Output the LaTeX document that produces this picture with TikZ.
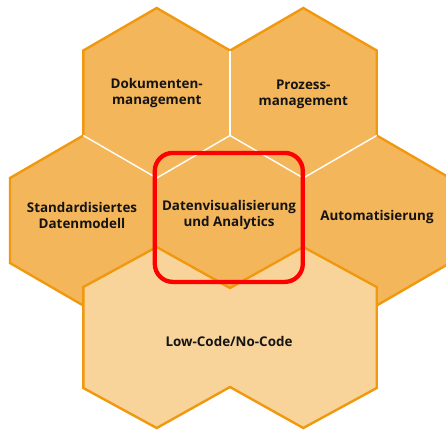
\documentclass[tikz,border=0pt]{standalone}
\usepackage{fontspec}
\setmainfont{Open Sans}
\definecolor{honey}{HTML}{F4B65A}
\definecolor{hexline}{HTML}{F0980E}
\definecolor{pale}{HTML}{F9D49A}
\definecolor{ink}{HTML}{141414}
\begin{document}
\begin{tikzpicture}[x=1pt,y=-1pt,
  upper/.style={fill=honey, draw=hexline, line width=2.4pt, line join=miter},
  lower/.style={fill=pale, draw=hexline, line width=2.4pt, line join=miter},
  seam/.style={draw=white, line width=1.4pt},
  label/.style={text=ink, font=\bfseries\fontsize{13.4}{16}\selectfont, align=center, inner sep=0pt},
  focusbox/.style={draw=red, line width=4.3pt, rounded corners=18pt, minimum width=148pt, minimum height=129pt, inner sep=0pt}
]
\useasboundingbox (0,0) rectangle (446,429);
% vertices of the honeycomb
\coordinate (lLL) at (10,263);
\coordinate (lUL) at (10,178);
\coordinate (lT) at (83.3,135.5);
\coordinate (tlUL) at (83.3,50.5);
\coordinate (tlT) at (156.7,8);
\coordinate (mid) at (230,50.5);
\coordinate (trT) at (303.3,8);
\coordinate (trUR) at (376.7,50.5);
\coordinate (rT) at (376.7,135.5);
\coordinate (rUR) at (450,178);
\coordinate (rLR) at (450,263);
\coordinate (rB) at (376.7,305.5);
\coordinate (cB) at (230,305.5);
\coordinate (lB) at (83.3,305.5);
\coordinate (cT) at (230,135.5);
\coordinate (cUL) at (156.7,178);
\coordinate (cUR) at (303.3,178);
\coordinate (cLL) at (156.7,263);
\coordinate (cLR) at (303.3,263);
% upper five hexagons as one shape
\path[upper] (lLL) -- (lUL) -- (lT) -- (tlUL) -- (tlT) -- (mid) -- (trT) -- (trUR) -- (rT) -- (rUR) -- (rLR) -- (rB) -- (cB) -- (lB) -- cycle;
% white seams between them
\draw[seam] (mid) -- (cT);
\draw[seam] (lT) -- (cUL) -- (cT) -- (cUR) -- (rT);
\draw[seam] (cUL) -- (cLL);
\draw[seam] (cUR) -- (cLR);
% lower double hexagon
\path[lower] (83.3,287) -- (156.7,247) -- (230,288) -- (303.3,247) -- (376.7,287) -- (376.7,388) -- (303.3,428) -- (230,387) -- (156.7,428) -- (83.3,388) -- cycle;
% labels
\node[label] (doc) at (156.7,93) {Dokumenten-\\management};
\node[label] (proz) at (303.3,94.5) {Prozess-\\management};
\node[label] (std) at (82,215.5) {Standardisiertes\\Datenmodell};
\node[label] (viz) at (229,215.5) {Datenvisualisierung\\und Analytics};
\node[label] (auto) at (377,217) {Automatisierung};
\node[label] (low) at (229,341) {Low-Code/No-Code};
% highlight
\node[focusbox] (focus) at (228.8,217.4) {};
\end{tikzpicture}
\end{document}
